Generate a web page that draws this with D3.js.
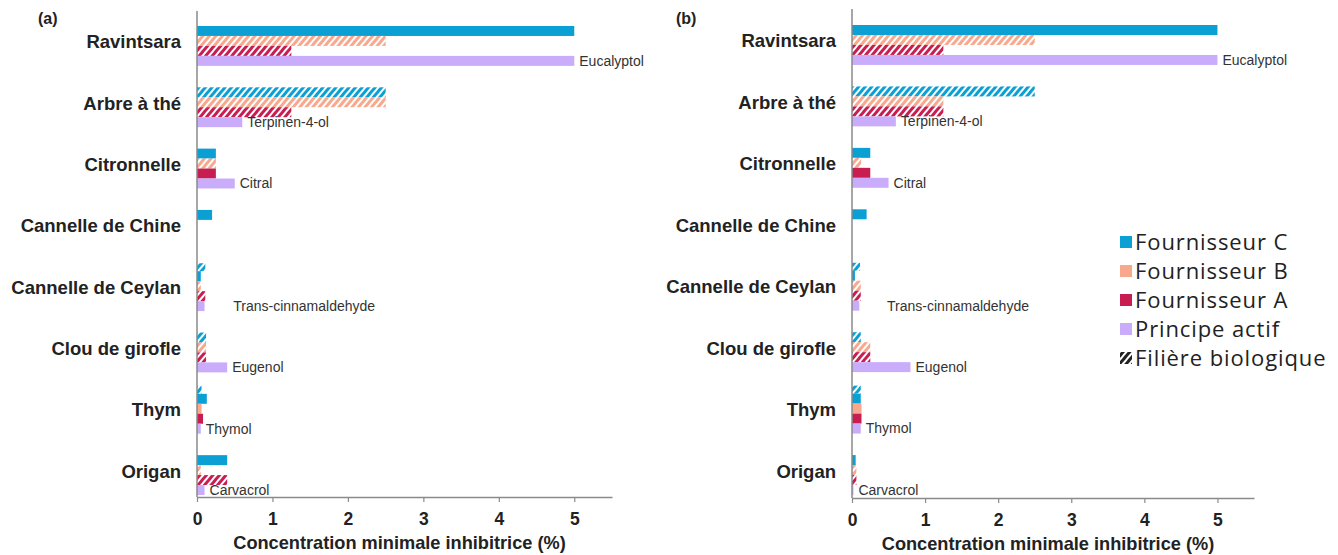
<!DOCTYPE html>
<html>
<head>
<meta charset="utf-8">
<script src="https://cdn.jsdelivr.net/npm/d3@7"></script>
<style>
  body { margin: 0; background: #fff; }
  svg { display: block; font-family: "Liberation Sans", Arial, sans-serif; }
</style>
</head>
<body>
<svg width="1338" height="555"></svg>
<script>
// categories (same for both panels)
var categories = ["Ravintsara", "Arbre à thé", "Citronnelle", "Cannelle de Chine",
                  "Cannelle de Ceylan", "Clou de girofle", "Thym", "Origan"];
var actifs = ["Eucalyptol", "Terpinen-4-ol", "Citral", "", "Trans-cinnamaldehyde",
              "Eugenol", "Thymol", "Carvacrol"];
var xTicks = [0, 1, 2, 3, 4, 5];

// panel (a)
var fournC_a = [5, 2.5, 0.25, 0.2, 0.05, 0.12, 0.13, 0.4];
var fournC_a_bio = [0, 1, 0, 0, 0, 1, 0, 0];
var fournC_a_extraBio = [0, 0, 0, 0, 0.11, 0, 0.06, 0];   // hatched sub-bar above C
var fournB_a = [2.5, 2.5, 0.25, 0, 0.05, 0.12, 0.06, 0.05];
var fournB_a_bio = [1, 1, 1, 0, 1, 1, 0, 1];
var fournA_a = [1.25, 1.25, 0.25, 0, 0.11, 0.12, 0.08, 0.4];
var fournA_a_bio = [1, 1, 0, 0, 1, 1, 0, 1];
var principe_a = [5, 0.6, 0.5, 0, 0.1, 0.4, 0.05, 0.1];

// panel (b)
var fournC_b = [5, 2.5, 0.25, 0.2, 0.04, 0.12, 0.12, 0.05];
var fournC_b_bio = [0, 1, 0, 0, 0, 1, 0, 0];
var fournC_b_extraBio = [0, 0, 0, 0, 0.11, 0, 0.12, 0];
var fournB_b = [2.5, 1.25, 0.125, 0, 0.12, 0.25, 0.13, 0.06];
var fournB_b_bio = [1, 1, 1, 0, 1, 1, 0, 1];
var fournA_b = [1.25, 1.25, 0.25, 0, 0.12, 0.25, 0.13, 0.06];
var fournA_b_bio = [1, 1, 0, 0, 1, 1, 0, 1];
var principe_b = [5, 0.6, 0.5, 0, 0.1, 0.8, 0.12, 0.02];

var legendLabels = ["Fournisseur C", "Fournisseur B", "Fournisseur A", "Principe actif", "Filière biologique"];

var colors = { C: "#0aa0d4", B: "#f8a88d", A: "#c81d50", P: "#c9adfb", K: "#222" };

var svg = d3.select("svg");
var defs = svg.append("defs");

// hatch patterns: colour with white diagonal stripes
Object.keys(colors).forEach(function(k) {
  var p = defs.append("pattern")
      .attr("id", "hatch-" + k)
      .attr("patternUnits", "userSpaceOnUse")
      .attr("width", 5).attr("height", 5)
      .attr("patternTransform", "rotate(40)");
  p.append("rect").attr("width", 5).attr("height", 5).attr("fill", colors[k]);
  p.append("rect").attr("width", 2).attr("height", 5).attr("fill", "#fff");
});

function drawPanel(o) {
  var g = svg.append("g");
  var x = d3.scaleLinear().domain([0, 5.5]).range([o.x0, o.x1]);
  var y = d3.scaleBand().domain(categories).range([o.yTop, o.yBot]).paddingInner(0.35).paddingOuter(0);
  var slot = y.bandwidth() / 4;

  var series = [
    { key: "C", vals: o.c, bio: o.cBio, i: 0 },
    { key: "B", vals: o.b, bio: o.bBio, i: 1 },
    { key: "A", vals: o.a, bio: o.aBio, i: 2 },
    { key: "P", vals: o.p, bio: categories.map(function() { return 0; }), i: 3 }
  ];

  // extra hatched C bars sitting just above the group
  g.selectAll(".extra").data(categories).enter().append("rect")
      .filter(function(d, i) { return o.cExtra[i] > 0; })
      .attr("x", x(0))
      .attr("y", function(d) { return y(d) - slot * 0.8; })
      .attr("width", function(d) { return x(o.cExtra[categories.indexOf(d)]) - x(0); })
      .attr("height", slot * 0.8)
      .attr("fill", "url(#hatch-C)");

  series.forEach(function(s) {
    g.selectAll(".bar-" + s.key).data(categories).enter().append("rect")
        .attr("x", x(0))
        .attr("y", function(d) { return y(d) + s.i * slot; })
        .attr("width", function(d, i) { return Math.max(0, x(s.vals[i]) - x(0)); })
        .attr("height", slot)
        .attr("fill", function(d, i) { return s.bio[i] ? "url(#hatch-" + s.key + ")" : colors[s.key]; });
  });

  // active compound labels
  g.selectAll(".actif").data(categories).enter().append("text")
      .attr("x", function(d, i) {
        if (actifs[i] === "Trans-cinnamaldehyde") return x(0.48);
        return x(o.p[i]) + 5;
      })
      .attr("y", function(d) { return y(d) + 3.5 * slot; })
      .attr("dy", "0.35em")
      .attr("font-size", 14)
      .attr("fill", "#333")
      .text(function(d, i) { return actifs[i]; });

  // category labels
  g.selectAll(".cat").data(categories).enter().append("text")
      .attr("x", o.x0 - 16)
      .attr("y", function(d) { return y(d) + y.bandwidth() / 2 - 4; })
      .attr("dy", "0.35em")
      .attr("text-anchor", "end")
      .attr("font-size", 18.5)
      .attr("font-weight", "bold")
      .attr("fill", "#222")
      .text(function(d) { return d; });

  // axes
  g.append("line")
      .attr("x1", o.x0).attr("x2", o.x0)
      .attr("y1", o.axisTop).attr("y2", o.axisY)
      .attr("stroke", "#8a8a8a").attr("stroke-width", 1.5);

  var xa = g.append("g")
      .attr("transform", "translate(0," + o.axisY + ")")
      .call(d3.axisBottom(x).tickValues(xTicks).tickFormat(d3.format("d"))
        .tickSize(5).tickSizeOuter(0).tickPadding(11));
  xa.select(".domain").attr("stroke", "#8a8a8a").attr("stroke-width", 1.5);
  xa.selectAll(".tick line").attr("stroke", "#8a8a8a").attr("stroke-width", 1.2);
  xa.selectAll(".tick text")
      .attr("font-size", 17.5).attr("font-weight", "bold").attr("fill", "#222")
      .attr("font-family", "Liberation Sans, Arial, sans-serif");

  g.append("text")
      .attr("x", (o.x0 + o.x1) / 2 - 5)
      .attr("y", o.axisY + 52)
      .attr("text-anchor", "middle")
      .attr("font-size", 18.2)
      .attr("font-weight", "bold")
      .attr("fill", "#222")
      .text("Concentration minimale inhibitrice (%)");

  g.append("text")
      .attr("x", o.tagX).attr("y", 24)
      .attr("font-size", 16).attr("font-weight", "bold").attr("fill", "#222")
      .text(o.tag);
}

drawPanel({
  tag: "(a)", tagX: 38,
  x0: 197, x1: 612, yTop: 26, yBot: 495, axisY: 497, axisTop: 11,
  c: fournC_a, cBio: fournC_a_bio, cExtra: fournC_a_extraBio,
  b: fournB_a, bBio: fournB_a_bio,
  a: fournA_a, aBio: fournA_a_bio,
  p: principe_a
});

drawPanel({
  tag: "(b)", tagX: 676,
  x0: 852, x1: 1254, yTop: 25, yBot: 495, axisY: 498, axisTop: 9,
  c: fournC_b, cBio: fournC_b_bio, cExtra: fournC_b_extraBio,
  b: fournB_b, bBio: fournB_b_bio,
  a: fournA_b, aBio: fournA_b_bio,
  p: principe_b
});

// legend
var legendKeys = ["C", "B", "A", "P", "K"];
var lg = svg.append("g").attr("transform", "translate(1120,242)");
var rows = lg.selectAll("g").data(legendLabels).enter().append("g")
    .attr("transform", function(d, i) { return "translate(0," + (i * 29) + ")"; });
rows.append("rect")
    .attr("x", 0).attr("y", -6).attr("width", 12).attr("height", 12)
    .attr("fill", function(d, i) { return legendKeys[i] === "K" ? "url(#hatch-K)" : colors[legendKeys[i]]; });
rows.append("text")
    .attr("x", 15).attr("dy", "0.36em")
    .attr("font-family", "Open Sans, sans-serif")
    .attr("font-size", 22)
    .attr("letter-spacing", 0.9)
    .attr("fill", "#222")
    .text(function(d) { return d; });
</script>
</body>
</html>
